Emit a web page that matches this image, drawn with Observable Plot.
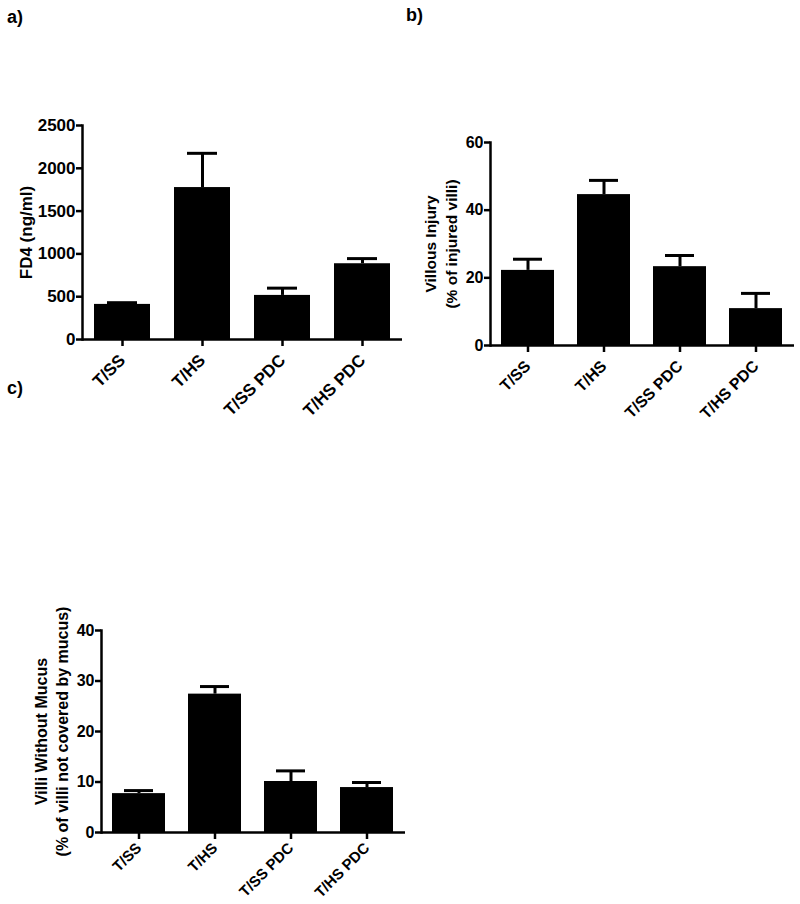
<!DOCTYPE html>
<html>
<head>
<meta charset="utf-8">
<script src="https://cdn.jsdelivr.net/npm/d3@7"></script>
<script src="https://cdn.jsdelivr.net/npm/@observablehq/plot@0.6"></script>
<style>
  html, body { margin: 0; padding: 0; background: #fff; }
  #wrap { position: relative; width: 800px; height: 904px; background: #fff; font-family: "Liberation Sans", Arial, sans-serif; }
  .panel { position: absolute; }
  .plabel { position: absolute; font-weight: bold; font-size: 18px; color: #000; line-height: 1; }
</style>
</head>
<body>
<div id="wrap"></div>
<script>
// ---- data ----
const groups = ["T/SS", "T/HS", "T/SS PDC", "T/HS PDC"];

const fd4Mean = [410, 1775, 515, 885];
const fd4Err  = [20, 400, 85, 60];
const fd4Ticks = [0, 500, 1000, 1500, 2000, 2500];

const injuryMean = [22.2, 44.6, 23.3, 10.9];
const injuryErr  = [3.3, 4.2, 3.3, 4.5];
const injuryTicks = [0, 20, 40, 60];

const mucusMean = [7.7, 27.4, 10.1, 8.9];
const mucusErr  = [0.6, 1.5, 2.1, 1.0];
const mucusTicks = [0, 10, 20, 30, 40];

const panelLabels = ["a)", "b)", "c)"];
const yTitles = ["FD4 (ng/ml)", "Villous Injury\n(% of injured villi)", "Villi Without Mucus\n(% of villi not covered by mucus)"];

function rows(mean, err) {
  return groups.map((g, i) => ({g, mean: mean[i], err: err[i]}));
}

function panel({data, ticks, title, width, height, mL, mR, mT, mB, tickFont, xFont, xPad, titleFont, titleDx, capInset}) {
  return Plot.plot({
    width, height,
    marginLeft: mL, marginRight: mR, marginTop: mT, marginBottom: mB,
    style: {background: "none", fontFamily: "'Liberation Sans', Arial, sans-serif", fontWeight: "bold", fontSize: tickFont + "px", color: "#000"},
    x: {type: "band", domain: groups, paddingInner: 0.3, paddingOuter: 0.15, label: null},
    y: {domain: [ticks[0], ticks[ticks.length - 1]], label: null},
    marks: [
      Plot.ruleX(data, {x: "g", y1: "mean", y2: d => d.mean + d.err, stroke: "#000", strokeWidth: 3}),
      Plot.tickY(data, {x: "g", y: d => d.mean + d.err, stroke: "#000", strokeWidth: 3, insetLeft: capInset, insetRight: capInset}),
      Plot.barY(data, {x: "g", y: "mean", fill: "#000"}),
      Plot.axisY({ticks, tickFormat: d3.format("d"), tickSize: 6, tickPadding: 1, strokeWidth: 2.5, label: null, fontSize: tickFont, fontWeight: "bold", fill: "#000"}),
      Plot.axisX({tickRotate: -45, tickSize: 7, tickPadding: xPad, strokeWidth: 2.5, label: null, fontSize: xFont, fontWeight: "bold", fill: "#000"}),
      Plot.ruleY([ticks[0]], {stroke: "#000", strokeWidth: 2.5}),
      Plot.frame({anchor: "left", stroke: "#000", strokeWidth: 2.5}),
      Plot.text([title], {frameAnchor: "left", text: d => d, rotate: -90, dx: titleDx, textAnchor: "middle", lineAnchor: "middle", fontSize: titleFont, fontWeight: "bold", fill: "#000", lineHeight: 1.35})
    ]
  });
}

const wrap = document.getElementById("wrap");
function place(node, left, top) {
  const d = document.createElement("div");
  d.className = "panel";
  d.style.left = left + "px";
  d.style.top = top + "px";
  d.appendChild(node);
  wrap.appendChild(d);
}

place(panel({data: rows(fd4Mean, fd4Err), ticks: fd4Ticks, title: yTitles[0],
  width: 410, height: 435, mL: 82, mR: 8, mT: 125, mB: 96,
  tickFont: 17, xFont: 17, xPad: 11, titleFont: 17, titleDx: -58, capInset: 13}), 0, 0);

place(panel({data: rows(injuryMean, injuryErr), ticks: injuryTicks, title: yTitles[1],
  width: 400, height: 440, mL: 90, mR: 6, mT: 142, mB: 95,
  tickFont: 16, xFont: 16, xPad: 11, titleFont: 15.5, titleDx: -51, capInset: 12}), 400, 0);

place(panel({data: rows(mucusMean, mucusErr), ticks: mucusTicks, title: yTitles[2],
  width: 410, height: 464, mL: 101, mR: 5, mT: 190, mB: 72,
  tickFont: 16, xFont: 15, xPad: 6, titleFont: 16, titleDx: -51, capInset: 12}), 0, 440);

const labelPos = [[7, 8], [406, 6], [7, 379]];
panelLabels.forEach((t, i) => {
  const el = document.createElement("div");
  el.className = "plabel";
  el.textContent = t;
  el.style.left = labelPos[i][0] + "px";
  el.style.top = labelPos[i][1] + "px";
  wrap.appendChild(el);
});
</script>
</body>
</html>
